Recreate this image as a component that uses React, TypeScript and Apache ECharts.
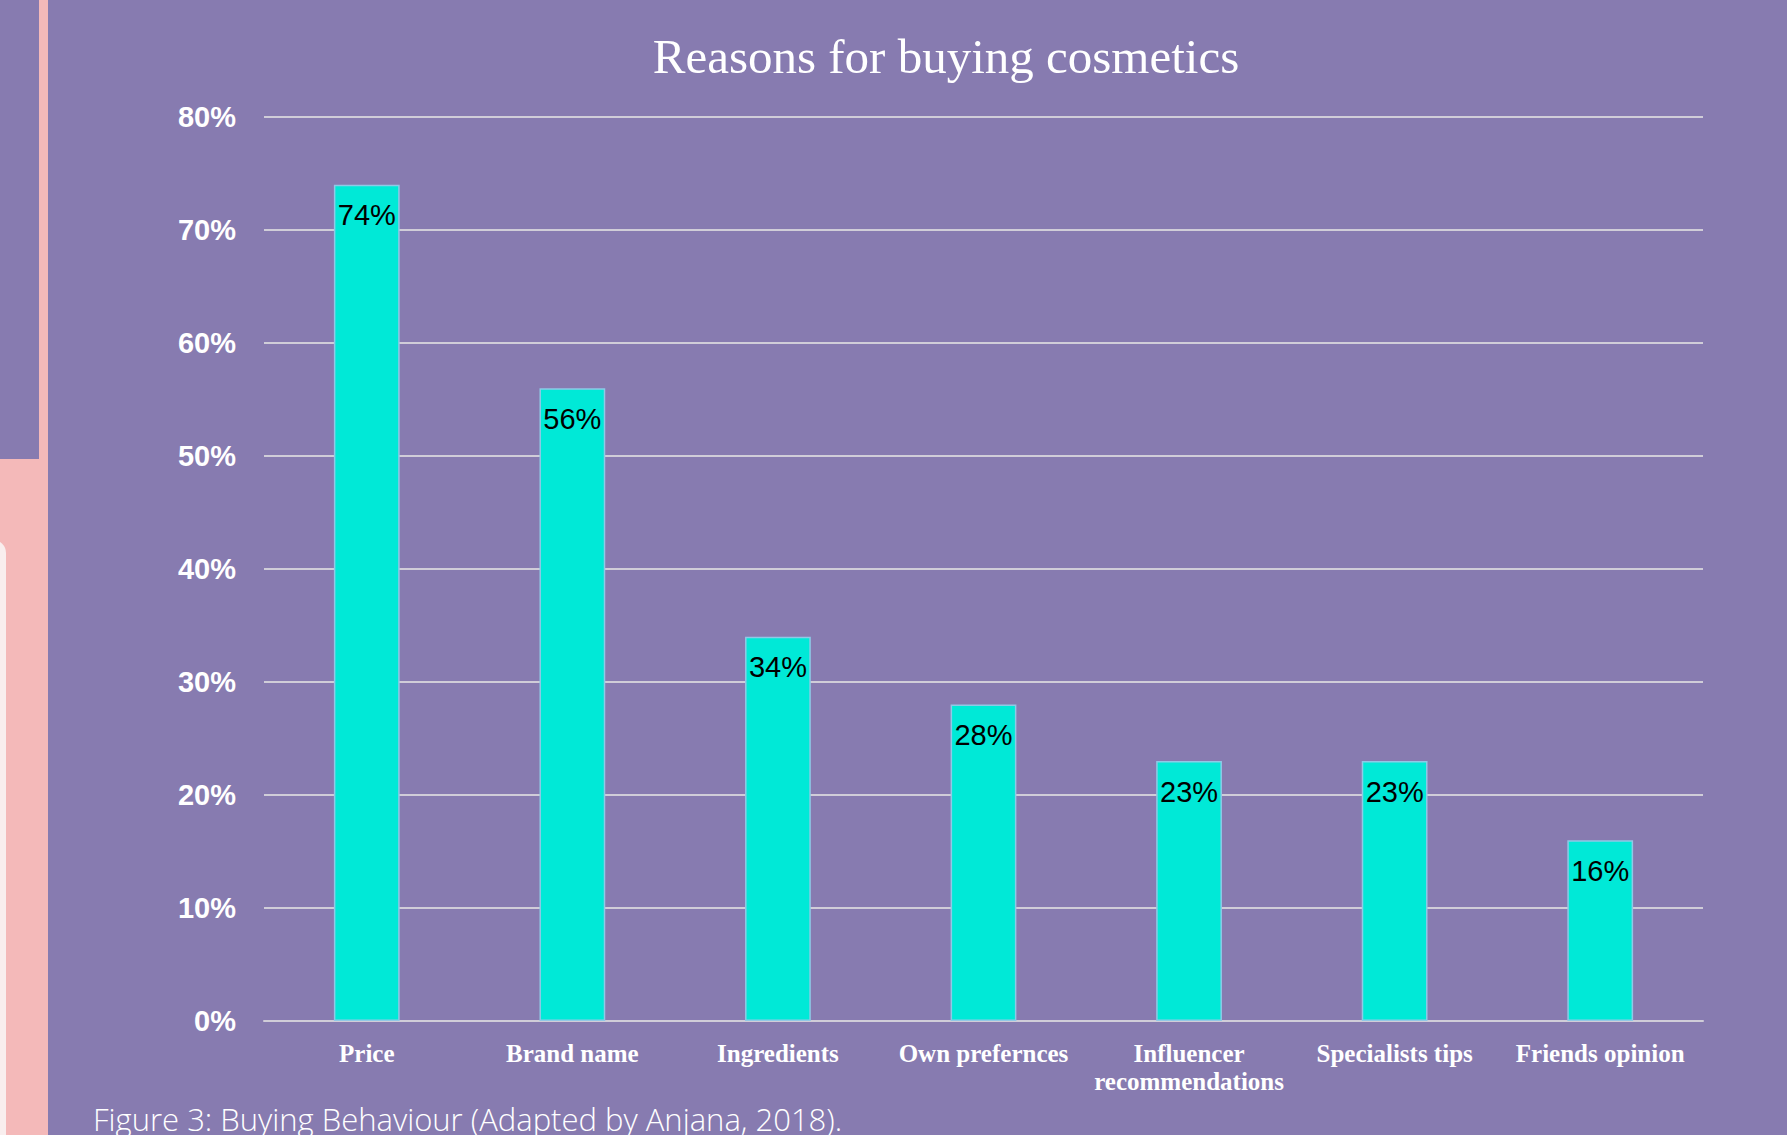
import React, { useEffect, useRef } from "react";
import * as echarts from "echarts";

const categories = [
  "Price",
  "Brand name",
  "Ingredients",
  "Own prefernces",
  "Influencer\nrecommendations",
  "Specialists tips",
  "Friends opinion",
];
const values = [74, 56, 34, 28, 23, 23, 16];
const yTicks = { min: 0, max: 80, interval: 10 };
const titleText = "Reasons for buying cosmetics";
const captionText = "Figure 3: Buying Behaviour (Adapted by Anjana, 2018).";

const PURPLE = "#877bb0";
const PINK = "#f4b9b9";

export default function App() {
  const ref = useRef<HTMLDivElement>(null);
  useEffect(() => {
    if (!ref.current) return;
    const chart = echarts.init(ref.current, undefined, { renderer: "svg" });
    chart.setOption({
      animation: false,
      backgroundColor: PURPLE,
      grid: { left: 264, right: 84, top: 117, bottom: 114, containLabel: false },
      graphic: [
        { type: "rect", z: -10, shape: { x: 0, y: 0, width: 48, height: 1135 }, style: { fill: PINK } },
        { type: "rect", z: -9, shape: { x: 0, y: 0, width: 39, height: 459 }, style: { fill: PURPLE } },
        { type: "rect", z: -9, shape: { x: -20, y: 540, width: 26, height: 700, r: 14 }, style: { fill: "#f9eeee" } },
        {
          type: "text",
          x: 946,
          y: 56,
          style: {
            text: titleText,
            fill: "#ffffff",
            font: "normal 49px 'Liberation Serif', serif",
            textAlign: "center",
            textVerticalAlign: "middle",
          },
        },
        {
          type: "text",
          x: 93,
          y: 1103,
          style: {
            text: captionText,
            fill: "#ffffff",
            font: "300 31px 'Open Sans', Lato, sans-serif",
            textAlign: "left",
            textVerticalAlign: "top",
          },
        },
      ],
      xAxis: {
        type: "category",
        data: categories,
        axisLine: { show: true, lineStyle: { color: "#d0cdd8", width: 2 } },
        axisTick: { show: false },
        axisLabel: {
          color: "#ffffff",
          fontFamily: "'Liberation Serif', serif",
          fontWeight: "bold",
          fontSize: 25,
          lineHeight: 28,
          margin: 18,
          interval: 0,
        },
      },
      yAxis: {
        type: "value",
        min: yTicks.min,
        max: yTicks.max,
        interval: yTicks.interval,
        axisLine: { show: false },
        axisTick: { show: false },
        splitLine: { lineStyle: { color: "#d0cdd8", width: 2 } },
        axisLabel: {
          formatter: "{value}%",
          color: "#ffffff",
          fontFamily: "'Liberation Sans', Arial, sans-serif",
          fontWeight: "bold",
          fontSize: 29,
          margin: 28,
        },
      },
      series: [
        {
          type: "bar",
          data: values,
          barWidth: "32%",
          itemStyle: { color: "#00e9d7", borderColor: "#8fc9e6", borderWidth: 1.5 },
          label: {
            show: true,
            position: "insideTop",
            distance: 16,
            formatter: "{c}%",
            color: "#000000",
            fontFamily: "'Liberation Sans', Arial, sans-serif",
            fontSize: 29,
          },
        },
      ],
    });
    return () => chart.dispose();
  }, []);
  return (
    <div
      ref={ref}
      style={{ position: "fixed", left: 0, top: 0, width: 1787, height: 1135 }}
    />
  );
}
